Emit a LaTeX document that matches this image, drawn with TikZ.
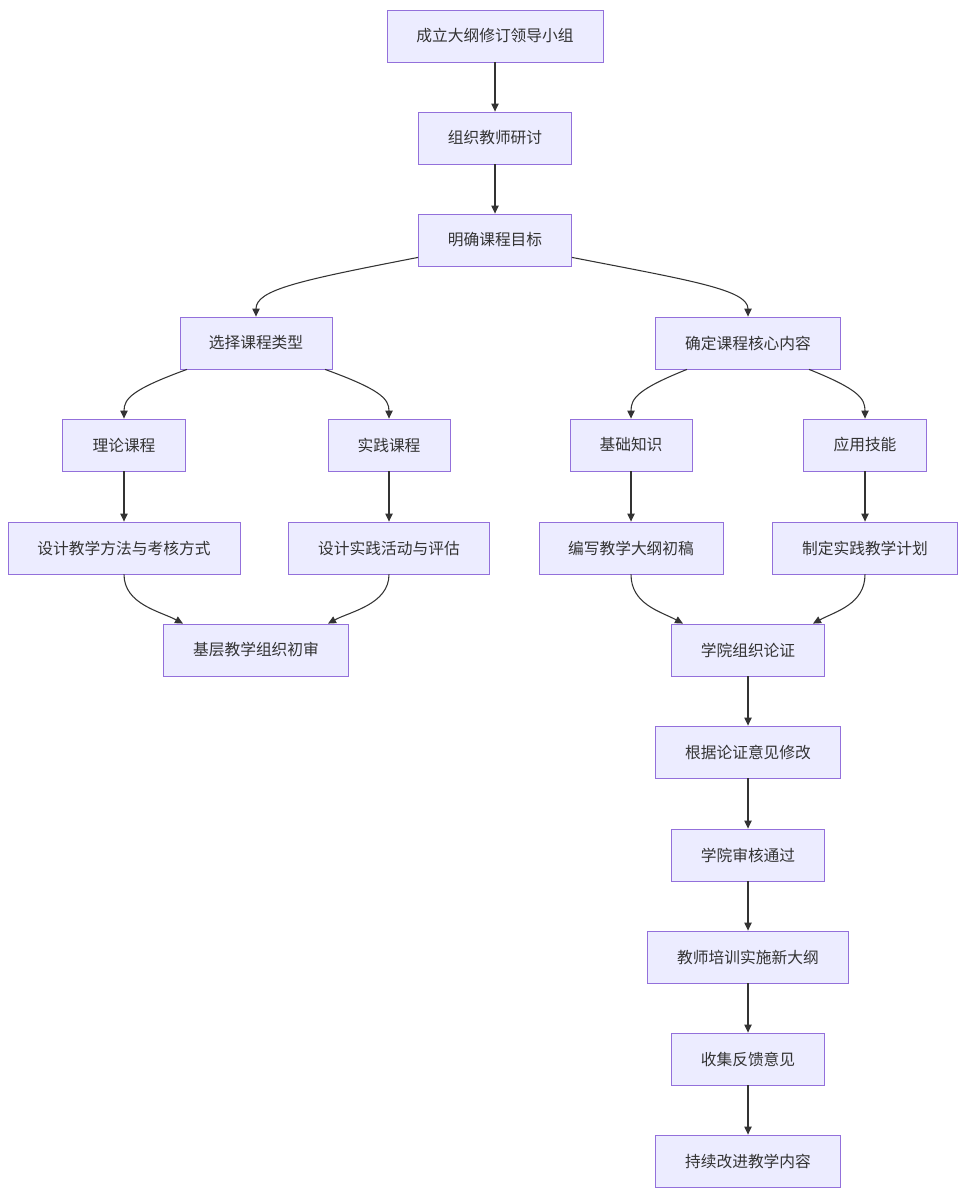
\documentclass[tikz,border=0pt]{standalone}
\usepackage{fontspec}
\setmainfont{Noto Sans CJK SC}
\usetikzlibrary{arrows.meta,calc}
\definecolor{boxfill}{HTML}{ECECFF}
\definecolor{boxline}{HTML}{9370DB}
\definecolor{edgecol}{HTML}{333333}
\tikzset{
  box/.style={draw=boxline, fill=boxfill, line width=0.6pt, text=edgecol,
    minimum height={52*0.75pt}, minimum width={#1*0.75pt}, inner sep=0pt,
    font=\fontsize{11.8pt}{14pt}\selectfont},
  edge/.style={draw=edgecol, line width=0.8pt, -{Triangle[length=6pt,width=5.5pt]}}
}
\begin{document}
\begin{tikzpicture}[x=0.75pt,y=-0.75pt]
\useasboundingbox (0,0) rectangle (966,1198);
\node[box=216] (n1) at (495,36) {成立大纲修订领导小组};
\node[box=153] (n2) at (495,138) {组织教师研讨};
\node[box=153] (n3) at (495,240) {明确课程目标};
\node[box=152] (n4) at (256,343) {选择课程类型};
\node[box=185] (n5) at (748,343) {确定课程核心内容};
\node[box=123] (n6) at (124,445) {理论课程};
\node[box=122] (n7) at (389,445) {实践课程};
\node[box=122] (n8) at (631,445) {基础知识};
\node[box=123] (n9) at (865,445) {应用技能};
\node[box=232] (n10) at (124,548) {设计教学方法与考核方式};
\node[box=201] (n11) at (389,548) {设计实践活动与评估};
\node[box=184] (n12) at (631,548) {编写教学大纲初稿};
\node[box=185] (n13) at (865,548) {制定实践教学计划};
\node[box=185] (n14) at (256,650) {基层教学组织初审};
\node[box=153] (n15) at (748,650) {学院组织论证};
\node[box=185] (n16) at (748,752) {根据论证意见修改};
\node[box=153] (n17) at (748,855) {学院审核通过};
\node[box=201] (n18) at (748,957) {教师培训实施新大纲};
\node[box=153] (n19) at (748,1059) {收集反馈意见};
\node[box=185] (n20) at (748,1161) {持续改进教学内容};
% straight edges
\draw[edge] (n1) -- (n2);
\draw[edge] (n2) -- (n3);
\draw[edge] (n6) -- (n10);
\draw[edge] (n7) -- (n11);
\draw[edge] (n8) -- (n12);
\draw[edge] (n9) -- (n13);
\draw[edge] (n15) -- (n16);
\draw[edge] (n16) -- (n17);
\draw[edge] (n17) -- (n18);
\draw[edge] (n18) -- (n19);
\draw[edge] (n19) -- (n20);
% curved edges
\draw[edge] ($(n3.south west)+(0,-9)$) .. controls +(-118,23) and +(0,-27) .. (n4.north);
\draw[edge] ($(n3.south east)+(0,-9)$) .. controls +(118,23) and +(0,-27) .. (n5.north);
\draw[edge] ($(n4.south)+(-69,0)$) .. controls +(-55,20) and +(0,-20) .. (n6.north);
\draw[edge] ($(n4.south)+(69,0)$) .. controls +(55,20) and +(0,-20) .. (n7.north);
\draw[edge] ($(n5.south)+(-61,0)$) .. controls +(-50,20) and +(0,-20) .. (n8.north);
\draw[edge] ($(n5.south)+(61,0)$) .. controls +(50,20) and +(0,-20) .. (n9.north);
\draw[edge] (n10.south) .. controls +(0,30) and +(-22,-12) .. ($(n14.north)+(-73,0)$);
\draw[edge] (n11.south) .. controls +(0,30) and +(22,-12) .. ($(n14.north)+(72,0)$);
\draw[edge] (n12.south) .. controls +(0,30) and +(-22,-12) .. ($(n15.north)+(-65,0)$);
\draw[edge] (n13.south) .. controls +(0,30) and +(22,-12) .. ($(n15.north)+(65,0)$);
\end{tikzpicture}
\end{document}
